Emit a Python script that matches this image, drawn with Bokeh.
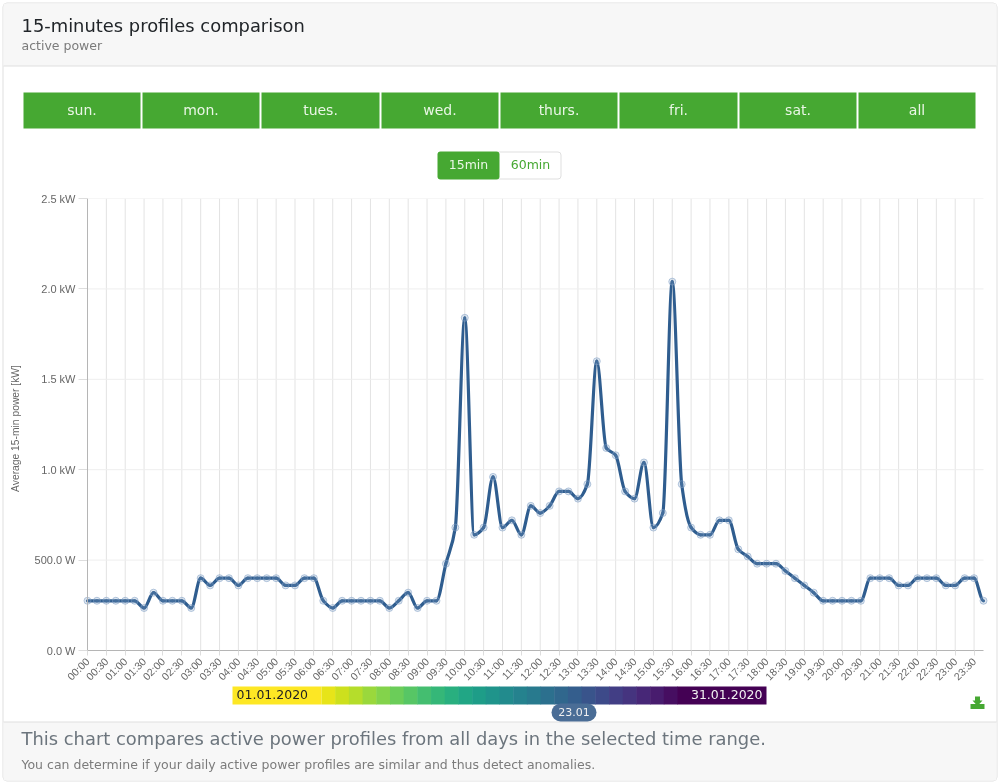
import math
import numpy as np
from bokeh.core.properties import value
from bokeh.embed import file_html
from bokeh.resources import INLINE
from bokeh.plotting import figure
from bokeh.models import LinearAxis, FixedTicker, Range1d, Span
from bokeh.palettes import Viridis256

hours = [f"{h:02d}:{m:02d}" for h in range(24) for m in (0, 15, 30, 45)]
power_kw = [
    .275, .275, .275, .275, .275, .275, .235, .32, .275, .275, .275, .235,
    .40, .36, .40, .40, .36, .40, .40, .40, .40, .36, .36, .40,
    .40, .275, .235, .275, .275, .275, .275, .275, .235, .275, .32, .235,
    .275, .275, .48, .68, 1.84, .64, .68, .96, .68, .72, .64, .80,
    .76, .80, .88, .88, .84, .92, 1.60, 1.12, 1.08, .88, .84, 1.04,
    .68, .76, 2.04, .92, .68, .64, .64, .72, .72, .56, .52, .48,
    .48, .48, .44, .40, .36, .32, .275, .275, .275, .275, .275, .40,
    .40, .40, .36, .36, .40, .40, .40, .36, .36, .40, .40, .275,
]
y_ticks = [0, .5, 1, 1.5, 2, 2.5]
y_tick_labels = ["0.0 W", "500.0 W", "1.0 kW", "1.5 kW", "2.0 kW", "2.5 kW"]
days = ["sun.", "mon.", "tues.", "wed.", "thurs.", "fri.", "sat.", "all"]
title = "15-minutes profiles comparison"
subtitle = "active power"
y_title = "Average 15-min power [kW]"
foot_1 = "This chart compares active power profiles from all days in the selected time range."
foot_2 = "You can determine if your daily active power profiles are similar and thus detect anomalies."

W, H = 999, 784
F_L, F_R, F_T, F_B = 82, 988, 198, 650   # frame in page pixels
X0, X1 = 87, 983
per = (X1 - X0) / 95
GREEN = "#46a832"
LINE = "#2f5d8f"
PLACE = {"position": "fixed", "left": "0px", "top": "0px"}

# page furniture: a figure whose data units are page pixels
bg = figure(width=W, height=H, output_backend="svg", toolbar_location=None,
            x_range=Range1d(0, W), y_range=Range1d(H, 0),
            x_axis_type=None, y_axis_type=None, min_border=0,
            outline_line_color=None, background_fill_color="white",
            border_fill_color="white", styles=PLACE)
bg.grid.visible = False


def box(l, r, t, b, fill, line=None, radius=0):
    bg.quad(left=[l], right=[r], top=[t], bottom=[b], fill_color=fill,
            line_color=line, line_width=1, border_radius=radius)


def text(x, y, s, size, color, align="left", font="DejaVu Sans", angle=0):
    bg.text([x], [y], text=[s], text_font=value(font),
            text_font_size=f"{size}px", text_color=color, text_align=align,
            text_baseline="middle", angle=angle)


# card
box(2.5, 996.5, 2.5, 780.5, "white", "#dfdfdf", 4)
box(3, 996, 3, 65.5, "#f7f7f7")
box(3, 996, 721.5, 780, "#f7f7f7")
box(3, 996, 65, 66, "#dfdfdf")
box(3, 996, 721, 722, "#dfdfdf")
text(21, 24.5, title, 17.9, "#212529")
text(21, 45, subtitle, 12.5, "#7b7b7b")
text(21, 738, foot_1, 17.9, "#6c757d")
text(21, 763.5, foot_2, 12.5, "#7b7b7b")

# day buttons
edges = [23, 142, 261, 381, 500, 619, 739, 858, 977]
for i, d in enumerate(days):
    box(edges[i], edges[i + 1] - 2, 92, 128, GREEN)
    text((edges[i] + edges[i + 1] - 2) / 2, 109.5, d, 14, "#eaf6e6", align="center")

# interval toggle
box(495, 560.5, 151.5, 178.5, "white", "#dfdfdf", 3)
box(437, 499, 151, 179, GREEN, None, 3)
text(468, 164, "15min", 12.5, "#eaf6e6", align="center")
text(530, 164, "60min", 12.5, "#46a832", align="center")

# y axis title
text(15, 428, y_title, 10.3, "#666666", align="center", font="Liberation Sans", angle=math.pi / 2)

# date scale
n = 26
x_left, x_right = 321, 677
box(232, x_left, 686, 704, Viridis256[-1])
step = (x_right - x_left) / n
for i in range(n):
    col = Viridis256[255 - round((i + 1) * 255 / (n + 1))]
    box(x_left + i * step, x_left + (i + 1) * step + .5, 686, 704, col)
box(x_right, 766, 686, 704, Viridis256[0])
text(236, 693.5, "01.01.2020", 12.5, "#222222")
text(762, 693.5, "31.01.2020", 12.5, "#f2f2f2", align="right")
box(551, 596, 703, 721, "#4a6d96", None, 9)
text(573.5, 711, "23.01", 11, "#f0f0f0", align="center")

# download icon
box(970, 984, 703.5, 708.5, GREEN)
bg.patch([974.5, 979.5, 979.5, 982, 977, 972, 974.5],
         [696, 696, 700, 700, 705.5, 700, 700], fill_color=GREEN, line_color=None)

# chart
p = figure(width=W, height=H, output_backend="svg", toolbar_location=None,
           x_axis_type=None, y_axis_type=None,
           x_range=Range1d(-(X0 - F_L) / per, 95 + (F_R - X1) / per),
           y_range=Range1d(0, 2.5),
           min_border_left=F_L, min_border_right=W - F_R,
           min_border_top=F_T, min_border_bottom=H - F_B,
           outline_line_color=None, background_fill_alpha=0,
           border_fill_alpha=0, styles=PLACE)
p.grid.visible = False

x_ticks = list(range(0, 96, 2))
xaxis = LinearAxis(ticker=FixedTicker(ticks=x_ticks),
                   major_label_overrides={i: hours[i] for i in x_ticks},
                   major_label_orientation=math.pi / 4,
                   major_label_text_font="Liberation Sans",
                   major_label_text_font_size="10.5px",
                   major_label_text_color="#666666",
                   major_label_standoff=4,
                   axis_line_color="#b5b5b5", major_tick_line_color="#dddddd",
                   major_tick_out=5, major_tick_in=0, minor_tick_line_color=None,
                   bounds=(0, 95))
p.add_layout(xaxis, "below")
yaxis = LinearAxis(ticker=FixedTicker(ticks=y_ticks),
                   major_label_overrides=dict(zip(y_ticks, y_tick_labels)),
                   major_label_text_font="Liberation Sans",
                   major_label_text_font_size="11px",
                   major_label_text_color="#666666",
                   major_label_standoff=3,
                   axis_line_color=None, major_tick_line_color="#dddddd",
                   major_tick_out=4, major_tick_in=5, minor_tick_line_color=None)
p.add_layout(yaxis, "left")

xs = np.array(x_ticks[1:], dtype=float)
p.segment(xs, 0, xs, 2.5, line_color="#e3e3e3", line_width=1)
yt = np.array(y_ticks[1:], dtype=float)
p.segment(0, yt, 95, yt, line_color="#eeeeee", line_width=1)
p.add_layout(Span(location=0, dimension="height", line_color="#b5b5b5", line_width=1))

# smooth curve: one bezier per interval, control points from the values
x = np.arange(96, dtype=float)
y = np.array(power_kw)
d = np.diff(y)
m = np.zeros(96)
for i in range(1, 95):
    if d[i - 1] * d[i] > 0:
        m[i] = 2 * d[i - 1] * d[i] / (d[i - 1] + d[i])
p.bezier(x0=x[:-1], y0=y[:-1], x1=x[1:], y1=y[1:],
         cx0=x[:-1] + 1 / 3, cy0=y[:-1] + m[:-1] / 3,
         cx1=x[1:] - 1 / 3, cy1=y[1:] - m[1:] / 3,
         line_color=LINE, line_width=3.2, line_cap="round")
p.scatter(x, y, size=7, fill_color="#7f9fc4", fill_alpha=.25,
          line_color="#7f9fc4", line_alpha=.55, line_width=1)

open("out.html", "w").write(file_html([bg, p], INLINE))
